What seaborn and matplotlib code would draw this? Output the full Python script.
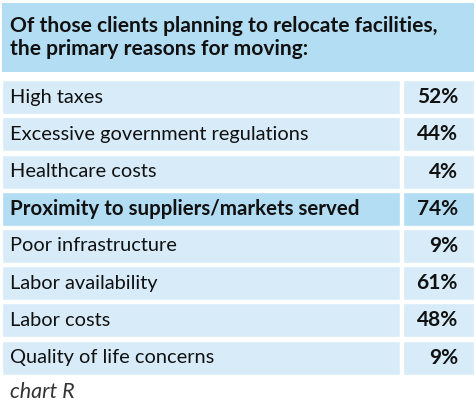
import matplotlib
matplotlib.use("Agg")
import matplotlib.pyplot as plt
import seaborn as sns
import pandas as pd

# data
title_lines = ["Of those clients planning to relocate facilities,",
               "the primary reasons for moving:"]
reasons = ["High taxes", "Excessive government regulations", "Healthcare costs",
           "Proximity to suppliers/markets served", "Poor infrastructure",
           "Labor availability", "Labor costs", "Quality of life concerns"]
shares = [52, 44, 4, 74, 9, 61, 48, 9]
highlight = "Proximity to suppliers/markets served"
caption = "chart R"

df = pd.DataFrame({"reason": reasons, "share": shares})
df["is_top"] = df["reason"] == highlight

HEADER_BLUE = "#b3ddf3"
ROW_BLUE = "#d7ecf8"

sns.set_theme(style="white")
plt.rcParams["font.family"] = ["Lato", "DejaVu Sans"]

W, H = 477, 415
fig = plt.figure(figsize=(W / 100, H / 100), dpi=100)

# layout in pixels
left, right = 2, 474
head_top, head_bot = 3, 72
rows_top, pitch = 78.5, 37.2
label_w, val_left = 398, 401

def box(x0, y0, x1, y1):
    return [x0 / W, 1 - y1 / H, (x1 - x0) / W, (y1 - y0) / H]

# header
hax = fig.add_axes(box(left, head_top, right, head_bot))
hax.set_facecolor(HEADER_BLUE)
hax.set_xticks([]); hax.set_yticks([])
for s in hax.spines.values():
    s.set_visible(False)
for yy, line in zip([0.66, 0.34], title_lines):
    hax.text(8 / (right - left), yy, line, transform=hax.transAxes,
             fontsize=15.1, fontweight="bold", va="center", ha="left", color="#111111")

# rows
n = len(reasons)
rows_bot = rows_top + pitch * n
ax = fig.add_axes(box(left, rows_top, right, rows_bot))
colors = [HEADER_BLUE if t else ROW_BLUE for t in df["is_top"]]
sns.barplot(data=df, y="reason", x=[label_w] * n, hue="reason", palette=colors,
            orient="h", width=34 / pitch, saturation=1, legend=False, ax=ax)
ax.barh(range(n), right - left - val_left, left=val_left, height=34 / pitch,
        color=colors)
ax.set_xlim(0, right - left)
ax.set_ylim(n - 0.5, -0.5)
ax.set_axis_off()

for i, row in df.iterrows():
    bold = row["is_top"]
    ax.text(8, i, row["reason"], va="center", ha="left",
            fontsize=14.8 if bold else 14.4,
            fontweight="bold" if bold else "normal", color="#111111")
    ax.text(458 - left, i, f"{row['share']}%", va="center", ha="right",
            fontsize=15, fontweight="bold", color="#111111")

fig.text(10 / W, 1 - 392 / H, caption, fontsize=15.5, style="italic",
         color="#333333", va="center", ha="left")

fig.savefig("out.png", dpi=100)
